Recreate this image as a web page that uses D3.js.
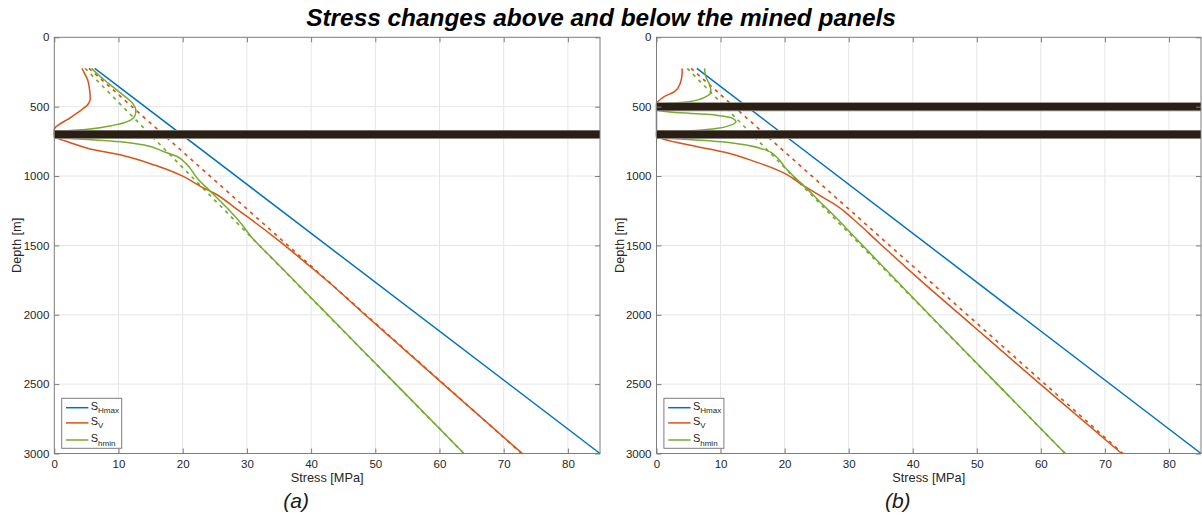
<!DOCTYPE html>
<html>
<head>
<meta charset="utf-8">
<script src="https://cdn.jsdelivr.net/npm/d3@7"></script>
<style>
  body { margin: 0; background: #fff; }
  svg { display: block; }
</style>
</head>
<body>
<svg id="chart" width="1202" height="517"></svg>
<script>
// Axis ticks
const stressTicks = [0, 10, 20, 30, 40, 50, 60, 70, 80];
const depthTicks = [0, 500, 1000, 1500, 2000, 2500, 3000];
const panelLabels = ["(a)", "(b)"];

// Depths [m] of the mined panels
const minedDepthsA = [700];
const minedDepthsB = [500, 700];

// Pre-mining stress profiles: [depth m, stress MPa]
const sHmaxProfile = [[224, 6.3], [3000, 85.0]];
const sV0Profile = [[224, 5.4], [3000, 72.8]];
const sHmin0Profile = [[224, 4.8], [3000, 63.8]];

// Post-mining profiles, case (a): one panel at 700 m
const sVProfileA = [
  [224, 4.3], [260, 4.7], [308, 5.2], [380, 5.5], [440, 5.6], [472, 5.4],
  [573, 2.7], [665, 0.0], [700, 0.0], [722, 0.3], [760, 2.5], [801, 5.3],
  [849, 10.4], [921, 15.6], [1001, 20.0], [1078, 22.9], [1126, 25.0],
  [1227, 28.1], [1318, 30.8], [1486, 35.5], [1631, 39.3], [1775, 43.0],
  [2000, 48.4], [2500, 60.6], [3000, 72.9]
];
const sHminProfileA = [
  [224, 5.8], [308, 7.8], [404, 10.4], [476, 12.2], [525, 12.7], [561, 12.6],
  [597, 11.9], [633, 9.3], [662, 5.2], [676, 1.5], [682, 0.0], [700, 0.0],
  [722, 0.0], [736, 5.2], [753, 10.4], [777, 14.0], [825, 17.1], [861, 19.2],
  [909, 20.5], [1017, 22.3], [1114, 24.4], [1234, 27.0], [1342, 29.1],
  [1439, 30.7], [1600, 34.1], [2000, 42.6], [2500, 53.2], [3000, 63.8]
];

// Post-mining profiles, case (b): panels at 500 m and 700 m
const sVProfileB = [
  [224, 4.0], [260, 4.0], [332, 3.7], [392, 2.8], [428, 1.2], [464, 0.2],
  [475, 0.0], [600, 0.0], [710, 0.0], [722, 0.3], [777, 5.1], [825, 10.3],
  [898, 15.5], [981, 20.0], [1066, 22.8], [1138, 25.4], [1222, 28.4],
  [1306, 30.6], [1475, 34.6], [1727, 40.6], [2088, 49.6], [2500, 59.9],
  [3000, 72.6]
];
const sHminProfileB = [
  [224, 7.5], [284, 7.7], [344, 8.3], [392, 8.5], [428, 7.7], [464, 5.1],
  [476, 2.0], [483, 0.0], [500, 0.0], [525, 0.0], [548, 5.1], [561, 9.3],
  [584, 11.9], [609, 12.4], [633, 11.6], [657, 9.3], [674, 5.1], [681, 1.0],
  [684, 0.0], [722, 0.0], [736, 5.1], [753, 10.3], [777, 14.0], [813, 17.1],
  [861, 18.7], [934, 20.0], [1006, 21.5], [1078, 23.2], [1186, 25.5],
  [1294, 27.9], [1414, 30.4], [2000, 42.6], [2500, 53.2], [3000, 63.8]
];

const legendEntries = [
  { sub: "Hmax", color: "#0072BD" },
  { sub: "V", color: "#D95319" },
  { sub: "hmin", color: "#77AC30" }
];

const COLORS = { sHmax: "#0072BD", sV: "#D95319", sHmin: "#77AC30" };
const FONT = "'Liberation Sans', Arial, Helvetica, sans-serif";
const TEXT = "#262626";
const AXIS = "#7d7d7d";
const fmt = d3.format("d");

const svg = d3.select("#chart");

svg.append("text")
  .attr("x", 601).attr("y", 26)
  .attr("text-anchor", "middle")
  .attr("font-family", FONT)
  .attr("font-size", 24.4)
  .attr("font-weight", "bold")
  .attr("font-style", "italic")
  .attr("fill", "#000")
  .text("Stress changes above and below the mined panels");

const panels = [
  { left: 54.3, right: 600, mined: minedDepthsA, sv: sVProfileA, shmin: sHminProfileA, label: panelLabels[0] },
  { left: 656.5, right: 1201, mined: minedDepthsB, sv: sVProfileB, shmin: sHminProfileB, label: panelLabels[1] }
];
const plotTop = 37.3, plotBottom = 453.5;

panels.forEach(p => {
  const x = d3.scaleLinear().domain([0, 85]).range([p.left, p.right]);
  const y = d3.scaleLinear().domain([0, 3000]).range([plotTop, plotBottom]);
  const g = svg.append("g");

  // grid
  g.append("g").selectAll("line")
    .data(stressTicks.filter(t => t > 0))
    .join("line")
    .attr("x1", d => x(d)).attr("x2", d => x(d))
    .attr("y1", plotTop).attr("y2", plotBottom)
    .attr("stroke", "#e6e6e6").attr("stroke-width", 1);
  g.append("g").selectAll("line")
    .data(depthTicks.filter(t => t > 0 && t < 3000))
    .join("line")
    .attr("x1", p.left).attr("x2", p.right)
    .attr("y1", d => y(d)).attr("y2", d => y(d))
    .attr("stroke", "#e6e6e6").attr("stroke-width", 1);

  const straight = d3.line().x(d => x(d[1])).y(d => y(d[0]));
  const curved = d3.line().x(d => x(d[1])).y(d => y(d[0])).curve(d3.curveMonotoneY);

  // pre-mining (dashed)
  [[sV0Profile, COLORS.sV], [sHmin0Profile, COLORS.sHmin]].forEach(([data, c]) => {
    g.append("path").datum(data)
      .attr("d", straight)
      .attr("fill", "none").attr("stroke", c)
      .attr("stroke-width", 1.7)
      .attr("stroke-dasharray", "3.5,4.5");
  });

  // post-mining (solid)
  g.append("path").datum(sHmaxProfile).attr("d", straight)
    .attr("fill", "none").attr("stroke", COLORS.sHmax).attr("stroke-width", 1.5);
  g.append("path").datum(p.sv).attr("d", curved)
    .attr("fill", "none").attr("stroke", COLORS.sV).attr("stroke-width", 1.5);
  g.append("path").datum(p.shmin).attr("d", curved)
    .attr("fill", "none").attr("stroke", COLORS.sHmin).attr("stroke-width", 1.5);

  // mined panels
  p.mined.forEach(dep => {
    g.append("line")
      .attr("x1", x(0)).attr("x2", x(85)).attr("y1", y(dep)).attr("y2", y(dep))
      .attr("stroke", "#8c857b").attr("stroke-width", 9);
    g.append("line")
      .attr("x1", x(0)).attr("x2", x(85)).attr("y1", y(dep)).attr("y2", y(dep))
      .attr("stroke", "#2a1f14").attr("stroke-width", 7.2);
  });

  // axes
  const styleAxis = sel => {
    sel.select(".domain").remove();
    sel.selectAll(".tick line").attr("stroke", AXIS);
    sel.selectAll(".tick text")
      .attr("font-family", FONT).attr("font-size", 11.5).attr("fill", TEXT);
  };
  g.append("g").attr("transform", `translate(0,${plotBottom})`)
    .call(d3.axisBottom(x).tickValues(stressTicks).tickFormat(fmt).tickSize(-5).tickPadding(6))
    .call(styleAxis);
  g.append("g").attr("transform", `translate(0,${plotTop})`)
    .call(d3.axisTop(x).tickValues(stressTicks).tickSize(-5).tickFormat(""))
    .call(styleAxis);
  g.append("g").attr("transform", `translate(${p.left},0)`)
    .call(d3.axisLeft(y).tickValues(depthTicks).tickFormat(fmt).tickSize(-5).tickPadding(5))
    .call(styleAxis);
  g.append("g").attr("transform", `translate(${p.right},0)`)
    .call(d3.axisRight(y).tickValues(depthTicks).tickSize(-5).tickFormat(""))
    .call(styleAxis);
  g.append("rect")
    .attr("x", p.left).attr("y", plotTop)
    .attr("width", p.right - p.left).attr("height", plotBottom - plotTop)
    .attr("fill", "none").attr("stroke", AXIS).attr("stroke-width", 1);

  // axis labels
  g.append("text")
    .attr("x", (p.left + p.right) / 2).attr("y", 482)
    .attr("text-anchor", "middle")
    .attr("font-family", FONT).attr("font-size", 12.75).attr("fill", TEXT)
    .text("Stress [MPa]");
  g.append("text")
    .attr("transform", `translate(${p.left - 33},${(plotTop + plotBottom) / 2}) rotate(-90)`)
    .attr("text-anchor", "middle")
    .attr("font-family", FONT).attr("font-size", 12.75).attr("fill", TEXT)
    .text("Depth [m]");
  g.append("text")
    .attr("x", (p.left + p.right) / 2 - 31).attr("y", 508)
    .attr("text-anchor", "middle")
    .attr("font-family", FONT).attr("font-size", 21).attr("font-style", "italic")
    .attr("fill", "#1a1a1a")
    .text(p.label);

  // legend
  const lg = g.append("g").attr("transform", `translate(${p.left + 7.4},398.3)`);
  lg.append("rect").attr("width", 60).attr("height", 50)
    .attr("fill", "#fff").attr("stroke", AXIS).attr("stroke-width", 1);
  const rows = [9.4, 24.6, 41.7];
  legendEntries.forEach((e, i) => {
    lg.append("line")
      .attr("x1", 4.3).attr("x2", 26.7).attr("y1", rows[i]).attr("y2", rows[i])
      .attr("stroke", e.color).attr("stroke-width", 1.5);
    const t = lg.append("text")
      .attr("x", 29).attr("y", rows[i] + 2)
      .attr("font-family", FONT).attr("font-size", 11).attr("fill", TEXT);
    t.append("tspan").text("S");
    t.append("tspan").attr("font-size", 8).attr("dy", 3.6).text(e.sub);
  });
});
</script>
</body>
</html>
